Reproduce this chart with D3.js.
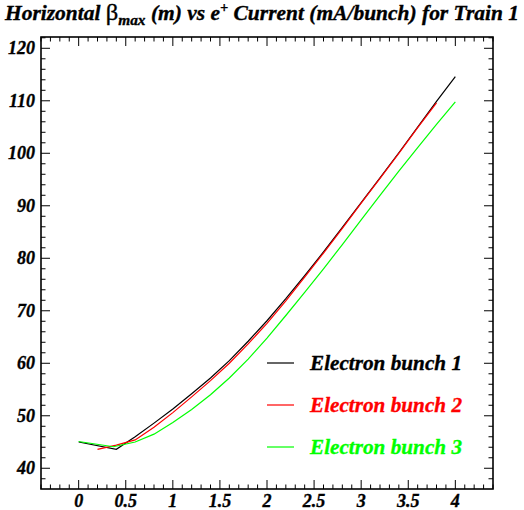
<!DOCTYPE html>
<html><head><meta charset="utf-8">
<script src="https://cdn.jsdelivr.net/npm/d3@7"></script>
</head><body style="margin:0">
<script>
const xBlack = [0, 0.4, 0.6, 0.8, 1.0, 1.2, 1.4, 1.6, 1.8, 2.0, 2.2, 2.4, 2.6, 2.8, 3.0, 3.2, 3.4, 3.6, 3.8, 4.0];
const yBlack = [45.0, 43.6, 46.0, 48.6, 51.3, 54.2, 57.2, 60.5, 64.2, 68.1, 72.3, 76.7, 81.2, 85.9, 90.6, 95.3, 100.1, 105.0, 109.9, 114.6];
const xRed = [0.2, 0.4, 0.6, 0.8, 1.0, 1.2, 1.4, 1.6, 1.8, 2.0, 2.2, 2.4, 2.6, 2.8, 3.0, 3.2, 3.4, 3.6, 3.8];
const yRed = [43.6, 44.4, 45.4, 47.8, 50.6, 53.6, 56.7, 60.0, 63.7, 67.6, 71.9, 76.4, 81.0, 85.7, 90.5, 95.2, 100.0, 104.9, 109.6];
const xGreen = [0, 0.37, 0.6, 0.8, 1.0, 1.2, 1.4, 1.6, 1.8, 2.0, 2.2, 2.4, 2.6, 2.8, 3.0, 3.2, 3.4, 3.6, 3.8, 4.0];
const yGreen = [45.1, 44.1, 45.0, 46.5, 48.7, 51.2, 54.0, 57.2, 60.8, 64.8, 69.1, 73.5, 78.0, 82.6, 87.3, 92.0, 96.6, 101.1, 105.5, 109.8];
const seriesNames = ["Electron bunch 1", "Electron bunch 2", "Electron bunch 3"];
const seriesColors = ["#000000", "#ff0000", "#00ff00"];
const xTickValues = [0, 0.5, 1, 1.5, 2, 2.5, 3, 3.5, 4];
const xTickLabels = ["0", "0.5", "1", "1.5", "2", "2.5", "3", "3.5", "4"];
const yTickValues = [40, 50, 60, 70, 80, 90, 100, 110, 120];

const W = 524, H = 510;
const FL = 41, FR = 493, FT = 37, FB = 489;

const svg = d3.select("body").append("svg").attr("width", W).attr("height", H).style("display", "block");
const x = d3.scaleLinear().domain([-0.4, 4.4]).range([FL, FR]);
const y = d3.scaleLinear().domain([36.05, 122.15]).range([FB, FT]);

const xMinor = d3.range(-0.4, 4.41, 0.1).map(v => +v.toFixed(2)).filter(v => Math.abs(v / 0.5 - Math.round(v / 0.5)) > 1e-6);
const yMinor = d3.range(38, 122.1, 2).filter(v => v % 10 !== 0);

const axes = svg.append("g").attr("stroke", "#000").attr("stroke-width", 1);
function vt(xv, y0, len) { axes.append("line").attr("x1", x(xv)).attr("x2", x(xv)).attr("y1", y0).attr("y2", y0 + len); }
function ht(yv, x0, len) { axes.append("line").attr("y1", y(yv)).attr("y2", y(yv)).attr("x1", x0).attr("x2", x0 + len); }
xTickValues.forEach(v => { vt(v, FB, -9); vt(v, FT, 9); });
xMinor.forEach(v => { vt(v, FB, -4.5); vt(v, FT, 4.5); });
yTickValues.forEach(v => { ht(v, FL, 9); ht(v, FR, -9); });
yMinor.forEach(v => { ht(v, FL, 4.5); ht(v, FR, -4.5); });

svg.append("rect").attr("x", FL).attr("y", FT).attr("width", FR - FL).attr("height", FB - FT)
  .attr("fill", "none").attr("stroke", "#000").attr("stroke-width", 1.6);

function styleText(sel, size, color) {
  return sel.attr("font-family", "Liberation Serif").attr("font-weight", "bold").attr("font-style", "italic")
    .attr("font-size", size).attr("fill", color).attr("stroke", color).attr("stroke-width", 0.35);
}

styleText(svg.append("g").selectAll("text").data(xTickValues).join("text")
  .attr("x", d => x(d)).attr("y", 507).attr("text-anchor", "middle")
  .text((d, i) => xTickLabels[i]), 18, "#000");
styleText(svg.append("g").selectAll("text").data(yTickValues).join("text")
  .attr("x", 35).attr("y", d => y(d) + 6).attr("text-anchor", "end")
  .text(d => d), 18, "#000");

const line = d3.line().x(d => x(d[0])).y(d => y(d[1]));
const data = [d3.zip(xBlack, yBlack), d3.zip(xRed, yRed), d3.zip(xGreen, yGreen)];
svg.append("clipPath").attr("id", "c").append("rect").attr("x", FL).attr("y", FT).attr("width", FR - FL).attr("height", FB - FT);
svg.append("g").attr("clip-path", "url(#c)").selectAll("path").data(data).join("path")
  .attr("d", line).attr("fill", "none").attr("stroke", (d, i) => seriesColors[i]).attr("stroke-width", 1.2);

const legY = [363, 405, 447];
const leg = svg.append("g");
seriesNames.forEach((n, i) => {
  leg.append("line").attr("x1", 267).attr("x2", 294).attr("y1", legY[i]).attr("y2", legY[i])
    .attr("stroke", seriesColors[i]).attr("stroke-width", 1.2);
  styleText(leg.append("text").attr("x", 310).attr("y", legY[i] + 7).text(n), 22, seriesColors[i])
    .attr("textLength", 152).attr("lengthAdjust", "spacingAndGlyphs");
});

// title
const t = styleText(svg.append("text").attr("x", 5).attr("y", 20), 21, "#000");
t.append("tspan").text("Horizontal ");
t.append("tspan").attr("font-style", "normal").attr("font-weight", "normal").attr("font-size", 24).text("β");
t.append("tspan").attr("font-size", 15).attr("dy", 5).text("max");
t.append("tspan").attr("dy", -5).text(" (m) vs e");
t.append("tspan").attr("font-size", 14).attr("dy", -8).text("+");
t.append("tspan").attr("dy", 8).text(" Current (mA/bunch) for Train 1");
t.attr("textLength", 514).attr("lengthAdjust", "spacingAndGlyphs");
</script>
</body></html>
